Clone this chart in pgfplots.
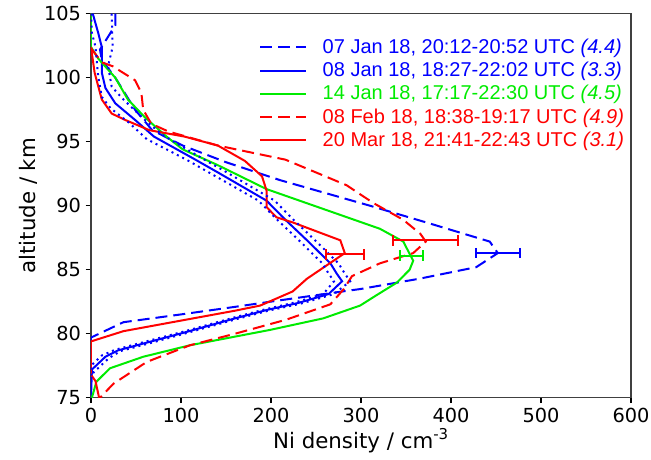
\documentclass[border=0pt]{standalone}
\usepackage{fontspec}
\setmainfont{DejaVu Sans}
\newfontfamily\legfont{Liberation Sans}
\usepackage{pgfplots}
\pgfplotsset{compat=1.18}
\definecolor{cblue}{RGB}{0,0,255}
\definecolor{cgreen}{RGB}{0,235,0}
\definecolor{cred}{RGB}{255,0,0}
\begin{document}
\begin{tikzpicture}
\begin{axis}[
  name=ax,
  width=405pt, height=288pt, scale only axis,
  xmin=0, xmax=600, ymin=75, ymax=105,
  xtick={0,100,200,300,400,500,600}, ytick={75,80,85,90,95,100,105},
  tick align=outside, tick pos=left,
  major tick length=4pt,
  axis line style={black!75, line width=0.8pt},
  every tick/.style={black, line width=0.8pt},
  tick label style={font=\fontsize{14.5}{17}\selectfont},
  /pgf/number format/assume math mode=true,
  xlabel={Ni density / cm\textsuperscript{-3}},
  ylabel={altitude / km},
  xlabel style={yshift=2pt},
  ylabel style={yshift=-2pt},
  label style={font=\fontsize{16}{19}\selectfont},
  legend style={at={(0.995,0.945)}, anchor=north east, draw=none, fill=none,
    font=\legfont\fontsize{15}{17}\selectfont, row sep=1pt, inner sep=1pt,
    column sep=10pt, legend cell align=left},
  legend image code/.code={\draw[#1] (0pt,0pt) -- (34pt,0pt);},
  every axis plot/.append style={line width=1.5pt},
]
% 07 Jan 18 (blue dashed)
\addplot[cblue, dash pattern=on 9pt off 4.5pt] coordinates {
(27,105) (27,104.1) (10,102.2) (12,101.4) (27,100.0) (49,97.5) (68,95.9) (102,94.7)
(150,93.4) (210,92.0) (310,90.0) (377,88.6) (443,87.2) (452,86.3) (428,85.2) (365,84.3)
(300,83.5) (269,83.2) (199,82.5) (160,82.1) (99,81.5) (36,80.9) (0,79.7) (0,75)};
\addlegendentry{\textcolor{cblue}{07 Jan 18, 20:12-20:52 UTC \textit{(4.4)}}}
% 08 Jan 18 (blue solid)
\addplot[cblue] coordinates {
(2,105) (8,103.5) (12,102.4) (12,100.4) (16,99.2) (27,98.0) (49,96.7) (70,95.4)
(116,93.6) (141,92.6) (195,90.4) (216,88.9) (240,87.3) (266,85.5) (273,84.7) (279,84.1)
(264,83.1) (230,82.4) (195,81.85) (160,81.2) (104,80.1) (67,79.4) (30,78.7) (16,78.2)
(1,77.2) (0,75)};
\addlegendentry{\textcolor{cblue}{08 Jan 18, 18:27-22:02 UTC \textit{(3.3)}}}
% 14 Jan 18 (green)
\addplot[cgreen] coordinates {
(0,105) (0,102.4) (8,101.5) (27,100.0) (41,98.3) (60,96.9) (84,95.4) (102,94.4)
(140,93.2) (195,91.3) (321,88.2) (347,87.2) (358,85.7) (354,85.0) (340,84.0) (317,83.0)
(299,82.2) (258,81.2) (199,80.3) (110,79.1) (58,78.2) (21,77.3) (6,76.25) (1,75)};
\addlegendentry{\textcolor{cgreen}{14 Jan 18, 17:17-22:30 UTC \textit{(4.5)}}}
% 08 Feb 18 (red dashed)
\addplot[cred, dash pattern=on 9pt off 4.5pt] coordinates {
(0,102.3) (12,101.2) (24,100.9) (49,99.8) (56,98.8) (58,97.5) (67,96.4) (86,95.8)
(141,94.7) (216,93.6) (284,91.6) (314,90.2) (347,88.9) (366,87.8) (372,87.2) (358,86.3)
(321,85.5) (290,84.5) (281,83.5) (266,82.3) (217,81.1) (160,80.0) (110,79.1) (62,77.8)
(25,76.1) (10,75)};
\addlegendentry{\textcolor{cred}{08 Feb 18, 18:38-19:17 UTC \textit{(4.9)}}}
% 20 Mar 18 (red solid)
\addplot[cred] coordinates {
(0,102.4) (4,100.4) (12,98.3) (23,97.2) (38,96.7) (65,95.9) (104,95.4) (141,94.7)
(171,93.5) (190,92.3) (195,91.2) (195,89.9) (206,89.1) (224,88.7) (277,87.3) (282,86.3)
(240,84.3) (224,83.3) (188,82.2) (160,81.8) (36,80.2) (0,79.4) (0,76.8) (5,76.3) (9,75)};
\addlegendentry{\textcolor{cred}{20 Mar 18, 21:41-22:43 UTC \textit{(3.1)}}}
% 08 Jan 18 uncertainty bounds (blue dotted)
\addplot[cblue, forget plot, dash pattern=on 1.5pt off 3pt] coordinates {
(0,105) (1,103.5) (5,102.4) (8,100.1) (12,98.5) (22,97.6) (42,96.5) (62,95.2)
(106,93.6) (131,92.6) (186,90.4) (207,88.9) (231,87.3) (257,85.5) (264,84.7) (270,84.1)
(258,83.1) (227,82.45) (193,81.9) (158,81.25) (102,80.15) (64,79.45) (27,78.75) (12,78.3)
(0,77.5) (0,75)};
\addplot[cblue, forget plot, dash pattern=on 1.5pt off 3pt] coordinates {
(23,105) (24,102.4) (19,100.9) (23,99.3) (36,98.3) (60,96.7) (80,95.5) (126,93.6)
(151,92.6) (204,90.4) (225,88.9) (249,87.3) (275,85.5) (282,84.7) (288,84.1) (270,83.1)
(233,82.35) (197,81.8) (162,81.15) (106,80.05) (70,79.35) (33,78.65) (20,78.1) (3,77.0)
(0,76.5)};
% error bars (peak value +- uncertainty)
\addplot[cblue, forget plot, mark=|, mark size=4pt, mark options={solid, line width=1.5pt}]
  coordinates {(427.5,86.3) (476.5,86.3)};
\addplot[cred, forget plot, mark=|, mark size=4pt, mark options={solid, line width=1.5pt}]
  coordinates {(335,87.3) (408,87.3)};
\addplot[cgreen, forget plot, mark=|, mark size=4pt, mark options={solid, line width=1.5pt}]
  coordinates {(343.5,86.1) (368.5,86.1)};
\addplot[cred, forget plot, mark=|, mark size=4pt, mark options={solid, line width=1.5pt}]
  coordinates {(261,86.2) (303,86.2)};
\end{axis}
\path (ax.south west) ++(-68.25pt,-46pt) coordinate (BL);
\path (ax.north east) ++(15pt,10.3pt) coordinate (TR);
\pgfresetboundingbox
\path[use as bounding box] (BL) rectangle (TR);
\end{tikzpicture}
\end{document}
